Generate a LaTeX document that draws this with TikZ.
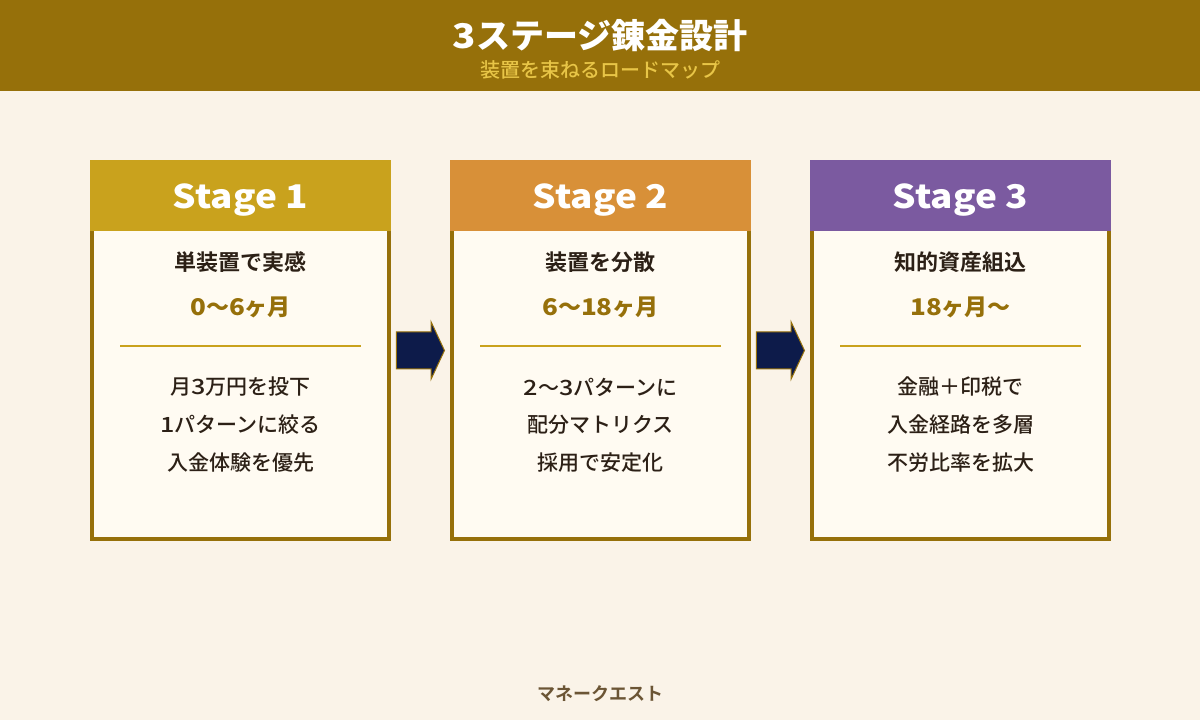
\documentclass[tikz,border=0pt]{standalone}
\usepackage{fontspec}
\setmainfont{Noto Sans CJK JP}[BoldFont={Noto Sans CJK JP Bold}]
\newfontfamily\heavyjp{Noto Sans CJK JP Black}
\newfontfamily\medjp{Noto Sans CJK JP Medium}
\newfontfamily\heavywide{Noto Sans CJK JP Black}[FakeStretch=1.13]
\newfontfamily\medwide{Noto Sans CJK JP Medium}[FakeStretch=1.2]
\newcommand{\hd}[1]{{\heavywide #1}}
\newcommand{\md}[1]{{\medwide #1}}
\usetikzlibrary{shapes.arrows}
\definecolor{bgcream}{HTML}{FAF3E8}
\definecolor{cardcream}{HTML}{FFFBF2}
\definecolor{darkgold}{HTML}{96700A}
\definecolor{lightgold}{HTML}{E8C547}
\definecolor{stagegold}{HTML}{C9A21D}
\definecolor{stageorange}{HTML}{D89038}
\definecolor{stagepurple}{HTML}{7B5AA0}
\definecolor{navyfill}{HTML}{0D1B4A}
\definecolor{inktext}{HTML}{2C2016}
\definecolor{footbrown}{HTML}{6B5535}
\tikzset{
  cardbox/.style={draw=darkgold,line width=3pt,fill=cardcream,minimum width=222.75pt,minimum height=282.75pt,inner sep=0pt},
  headbox/.style={minimum width=225.75pt,minimum height=53.25pt,inner sep=0pt,text=white,text height=20pt,text depth=1.2pt,font=\heavywide\fontsize{24.5}{28}\selectfont},
  flowarrow/.style={single arrow,draw=darkgold,line width=0.75pt,fill=navyfill,minimum height=36pt,inner xsep=0pt,inner ysep=13.5pt,single arrow head extend=7.5pt,single arrow tip angle=130,anchor=tip},
  leadtext/.style={text=inktext,font=\bfseries\fontsize{16.5}{20}\selectfont},
  spantext/.style={text=darkgold,font=\heavyjp\fontsize{17.25}{20}\selectfont},
  linetext/.style={text=inktext,font=\medjp\fontsize{15.75}{20}\selectfont},
}
\begin{document}
\begin{tikzpicture}[x=0.75pt,y=-0.75pt]
\useasboundingbox (0,0) rectangle (1200,720);
\fill[bgcream] (0,0) rectangle (1200,720);
\fill[darkgold] (0,0) rectangle (1200,91);
\node[text=white,font=\heavyjp\fontsize{25.5}{30}\selectfont] (title) at (600,36) {\hd{3}ステージ錬金設計};
\node[text=lightgold,font=\medjp\fontsize{15}{18}\selectfont] (subtitle) at (600,70) {装置を束ねるロードマップ};

\foreach \n/\x/\col/\lead/\span/\la/\lb/\lc in {
  1/240/stagegold/単装置で実感/\hd{0}〜\hd{6}ヶ月/月\md{3}万円を投下/\md{1}パターンに絞る/入金体験を優先,
  2/600/stageorange/装置を分散/\hd{6}〜\hd{18}ヶ月/\md{2}〜\md{3}パターンに/配分マトリクス/採用で安定化,
  3/960/stagepurple/知的資産組込/\hd{18}ヶ月〜/金融＋印税で/入金経路を多層/不労比率を拡大}{
  \node[cardbox] (card\n) at (\x+0.5,350.5) {};
  \node[headbox,fill=\col] (head\n) at (\x+0.5,195.5) {Stage \n};
  \node[leadtext] (lead\n) at (\x,262.5) {\lead};
  \node[spantext] (span\n) at (\x+0.5,307) {\span};
  \draw[stagegold,line width=1.5pt] (\x-120,346) -- (\x+121,346);
  \node[linetext] (la\n) at (\x+0.5,387) {\la};
  \node[linetext] (lb\n) at (\x+0.5,425) {\lb};
  \node[linetext] (lc\n) at (\x+0.5,463) {\lc};
}

\node[flowarrow] (arrowa) at (445,350.5) {};
\node[flowarrow] (arrowb) at (805,350.5) {};

\node[text=footbrown,font=\bfseries\fontsize{13.5}{18}\selectfont] (footer) at (600,693.5) {マネークエスト};
\end{tikzpicture}
\end{document}
